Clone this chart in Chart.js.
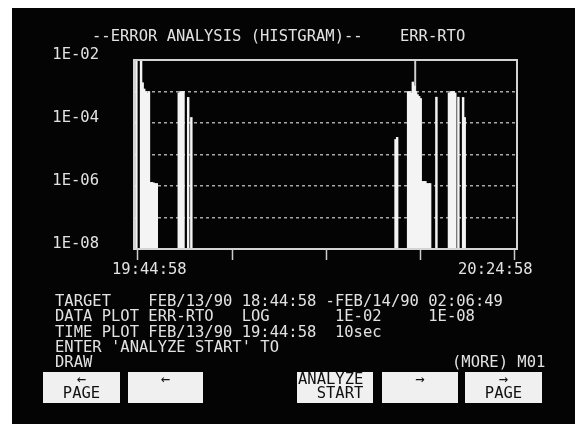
<!DOCTYPE html>
<html>
<head>
<meta charset="utf-8">
<script src="https://cdn.jsdelivr.net/npm/chart.js@4.4.1/dist/chart.umd.min.js"></script>
<style>
  html, body { margin: 0; background: #fff; }
  #screen { position: absolute; left: 12px; top: 8px; width: 563px; height: 416px; background: #040404; }
  canvas { filter: blur(0.5px); }
</style>
</head>
<body>
<div id="screen"><canvas id="chart" width="563" height="416"></canvas></div>
<script>
// seconds after 19:44:58, one bin = 10sec
const binSecs = [
  -10, 20, 30, 40, 50, 60, 70, 80, 90, 100, 110, 120,
  260, 270, 280, 290, 320, 340,
  1640, 1650, 1720, 1730, 1740, 1750, 1760, 1770, 1780, 1790, 1800,
  1810, 1820, 1830, 1840, 1850, 1860, 1900,
  1980, 1990, 2000, 2010, 2020, 2040, 2070, 2080,
];
const errRto = [
  1e-2, 1e-2, 1.9e-3, 1.2e-3, 1e-3, 9e-4, 1e-3, 1.3e-6, 1.3e-6, 1.25e-6, 1.2e-6, 1.2e-6,
  9e-4, 1e-3, 1e-3, 1e-3, 6.5e-4, 1.5e-4,
  3e-5, 3.5e-5, 1e-3, 1e-3, 9e-4, 2e-3, 1.5e-3, 1e-3, 8e-4, 7e-4, 6e-4,
  1.4e-6, 1.4e-6, 1.4e-6, 1.2e-6, 1.2e-6, 1.2e-6, 6.6e-4,
  9e-4, 1e-3, 1e-3, 1e-3, 9e-4, 6.6e-4, 6.5e-4, 1.5e-4,
];
const cursorSecs = [1765];

const xTickSecs = [0, 600, 1200, 1800, 2400];
const xEndLabels = ["19:44:58", "20:24:58"];
const yDecades = [-8, -7, -6, -5, -4, -3, -2];

const titleText = "--ERROR ANALYSIS (HISTGRAM)--    ERR-RTO";
const infoLines = [
  "TARGET    FEB/13/90 18:44:58 -FEB/14/90 02:06:49",
  "DATA PLOT ERR-RTO   LOG       1E-02     1E-08",
  "TIME PLOT FEB/13/90 19:44:58  10sec",
  "ENTER 'ANALYZE START' TO",
  "DRAW",
];
const moreText = "(MORE) M01";
const buttons = [
  { left: 31, width: 77, lines: ["\u2190", "PAGE"], align: "center" },
  { left: 116, width: 75, lines: ["\u2190", ""], align: "center" },
  { left: 285, width: 76, lines: ["ANALYZE", "  START"], align: "left" },
  { left: 370, width: 76, lines: ["\u2192", ""], align: "center" },
  { left: 453, width: 77, lines: ["\u2192", "PAGE"], align: "center" },
];

const FONT = "15.5px 'DejaVu Sans Mono'";
const TEXT_COLOR = "#e2e2e2";

const screenText = {
  id: "screenText",
  afterDraw(chart) {
    const { ctx, chartArea: area } = chart;
    ctx.save();
    ctx.strokeStyle = "#d4d4d4";
    ctx.lineWidth = 2;
    ctx.strokeRect(area.left, area.top, area.right - area.left, area.bottom - area.top);

    ctx.font = FONT;
    ctx.fillStyle = TEXT_COLOR;
    ctx.textBaseline = "middle";
    ctx.textAlign = "left";
    ctx.fillText(titleText, 80, 29);
    ctx.fillText(xEndLabels[0], 100, 262);
    ctx.fillText(xEndLabels[1], 446, 262);
    infoLines.forEach((line, i) => ctx.fillText(line, 43, 294 + i * 15.3));
    ctx.fillText(moreText, 440, 355);

    buttons.forEach((btn) => {
      ctx.fillStyle = "#f0f0f0";
      ctx.fillRect(btn.left, 364, btn.width, 31);
      ctx.fillStyle = "#111";
      btn.lines.forEach((line, i) => {
        const y = 372 + i * 14;
        if (btn.align === "center") {
          ctx.textAlign = "center";
          ctx.fillText(line, btn.left + btn.width / 2, y);
        } else {
          ctx.textAlign = "left";
          ctx.fillText(line, btn.left + 1, y);
        }
      });
    });
    ctx.restore();
  },
};

new Chart(document.getElementById("chart"), {
  type: "bar",
  data: {
    datasets: [
      {
        label: "ERR-RTO",
        data: binSecs.map((s, i) => ({ x: s, y: errRto[i] })),
        backgroundColor: "#f4f4f4",
        barThickness: 1.8,
        grouped: false,
      },
      {
        label: "cursor",
        data: cursorSecs.map((s) => ({ x: s, y: 1e-2 })),
        backgroundColor: "#cfcfcf",
        barThickness: 1.3,
        grouped: false,
      },
    ],
  },
  options: {
    responsive: false,
    devicePixelRatio: 1,
    animation: false,
    layout: { padding: { left: 0, top: 52, right: 58, bottom: 0 } },
    plugins: { legend: { display: false }, tooltip: { enabled: false } },
    scales: {
      x: {
        type: "linear",
        min: -25,
        max: 2413,
        offset: false,
        afterBuildTicks: (scale) => {
          scale.ticks = xTickSecs.map((value) => ({ value }));
        },
        afterFit: (scale) => {
          scale.height = 175;
        },
        ticks: { display: false },
        grid: {
          offset: false,
          drawOnChartArea: false,
          drawTicks: true,
          tickLength: 11,
          tickColor: "#cccccc",
          tickWidth: 1.5,
        },
        border: { display: false },
      },
      y: {
        type: "logarithmic",
        min: 1e-8,
        max: 1e-2,
        afterBuildTicks: (scale) => {
          scale.ticks = yDecades.map((e) => ({ value: Math.pow(10, e) }));
        },
        afterFit: (scale) => {
          scale.width = 122;
        },
        ticks: {
          color: TEXT_COLOR,
          font: { family: "'DejaVu Sans Mono'", size: 15.5 },
          padding: 35,
          labelOffset: -5,
          autoSkip: false,
          callback: (value) => {
            const e = Math.round(Math.log10(value));
            return e % 2 === 0 ? `1E-0${-e}` : "";
          },
        },
        grid: {
          drawTicks: false,
          lineWidth: 1.5,
          color: (ctx) => {
            const e = Math.round(Math.log10(ctx.tick.value));
            return e === -2 || e === -8 ? "rgba(0,0,0,0)" : "#a8a8a8";
          },
        },
        border: { display: false, dash: [3, 3] },
      },
    },
  },
  plugins: [screenText],
});
</script>
</body>
</html>
